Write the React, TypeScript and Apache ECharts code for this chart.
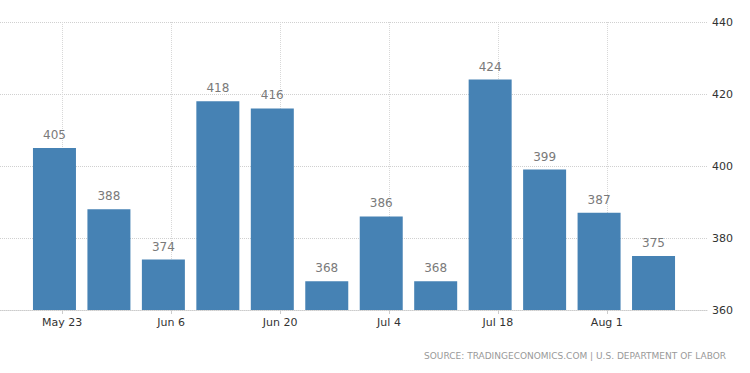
import React, { useEffect, useRef } from "react";
import * as echarts from "echarts";

// Week-ending dates (2021) and values
const weekDates = ["2021-05-22", "2021-05-29", "2021-06-05", "2021-06-12", "2021-06-19", "2021-06-26", "2021-07-03", "2021-07-10", "2021-07-17", "2021-07-24", "2021-07-31", "2021-08-07"];
const values = [405, 388, 374, 418, 416, 368, 386, 368, 424, 399, 387, 375];
const tickDates = ["2021-05-23", "2021-06-06", "2021-06-20", "2021-07-04", "2021-07-18", "2021-08-01"];
const tickLabels = ["May 23", "Jun 6", "Jun 20", "Jul 4", "Jul 18", "Aug 1"];
const axisStart = "2021-05-15";
const axisEnd = "2021-08-14";
const yTicks = { min: 360, max: 440, interval: 20 };
const sourceText = "SOURCE: TRADINGECONOMICS.COM | U.S. DEPARTMENT OF LABOR";

function dayList(start: string, end: string): string[] {
  const out: string[] = [];
  const d = new Date(start + "T00:00:00Z");
  const e = new Date(end + "T00:00:00Z");
  while (d.getTime() <= e.getTime()) {
    out.push(d.toISOString().slice(0, 10));
    d.setUTCDate(d.getUTCDate() + 1);
  }
  return out;
}

export default function App() {
  const ref = useRef<HTMLDivElement>(null);
  useEffect(() => {
    document.body.style.margin = "0";
    if (!ref.current) return;
    const chart = echarts.init(ref.current, undefined, { renderer: "svg" });
    const days = dayList(axisStart, axisEnd);
    const data = days.map((d) => {
      const i = weekDates.indexOf(d);
      return i >= 0 ? values[i] : null;
    });
    const isTick = (idx: number) => tickDates.indexOf(days[idx]) >= 0;
    const font = "DejaVu Sans";
    chart.setOption({
      animation: false,
      grid: { left: 0, right: 42, top: 22, bottom: 63, containLabel: false },
      xAxis: {
        type: "category",
        data: days,
        boundaryGap: false,
        axisLine: { show: true, lineStyle: { color: "#cccccc", type: "dotted", width: 1 } },
        axisTick: { show: true, interval: (idx: number) => isTick(idx), length: 4, lineStyle: { color: "#cccccc" } },
        axisLabel: {
          interval: (idx: number) => isTick(idx),
          formatter: (v: string) => {
            const i = tickDates.indexOf(v);
            return i >= 0 ? tickLabels[i] : "";
          },
          color: "#333333",
          fontFamily: font,
          fontSize: 11,
          margin: 7,
        },
        splitLine: { show: true, interval: (idx: number) => isTick(idx), lineStyle: { color: "#d8d8d8", type: "dotted" } },
      },
      yAxis: {
        type: "value",
        position: "right",
        min: yTicks.min,
        max: yTicks.max,
        interval: yTicks.interval,
        axisLine: { show: false },
        axisTick: { show: false },
        axisLabel: { color: "#333333", fontFamily: font, fontSize: 11, margin: 4 },
        splitLine: { show: true, lineStyle: { color: "#d0d0d0", type: "dotted" } },
      },
      series: [
        {
          type: "bar",
          data,
          barWidth: 43,
          itemStyle: { color: "#4682b4" },
          label: {
            show: true,
            position: "top",
            distance: 7,
            color: "#7a7a7a",
            fontFamily: font,
            fontSize: 12,
          },
        },
      ],
      graphic: [
        {
          type: "text",
          right: 24,
          top: 351,
          style: { text: sourceText, fill: "#999999", font: "9px 'DejaVu Sans'" },
        },
      ],
    });
    return () => chart.dispose();
  }, []);
  return <div ref={ref} style={{ width: 750, height: 373 }} />;
}
